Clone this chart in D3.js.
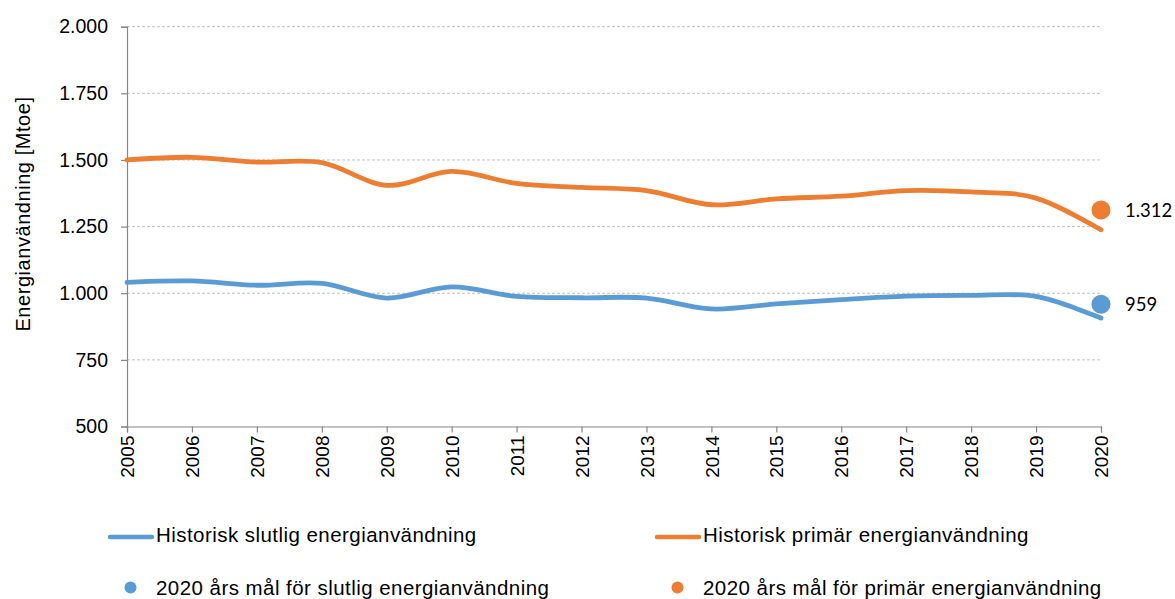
<!DOCTYPE html>
<html>
<head>
<meta charset="utf-8">
<script src="https://cdn.jsdelivr.net/npm/d3@7"></script>
<style>
  html, body { margin: 0; padding: 0; background: #fff; }
  svg { display: block; }
  text { font-family: "Liberation Sans", Arial, sans-serif; fill: #000; }
</style>
</head>
<body>
<svg id="chart" width="1175" height="599"></svg>
<script>
const years = [2005, 2006, 2007, 2008, 2009, 2010, 2011, 2012, 2013, 2014, 2015, 2016, 2017, 2018, 2019, 2020];
const finalUse = [1041, 1046, 1030, 1037, 982, 1024, 988, 983, 982, 941, 960, 976, 989, 992, 988, 907];
const primaryUse = [1500, 1510, 1492, 1490, 1405, 1457, 1412, 1397, 1385, 1332, 1354, 1364, 1385, 1380, 1357, 1238];
const targetYear = 2020;
const finalTarget = 959;
const primaryTarget = 1312;
const yTicks = [500, 750, 1000, 1250, 1500, 1750, 2000];
const yTickLabels = ["500", "750", "1.000", "1.250", "1.500", "1.750", "2.000"];
const targetLabels = ["959", "1.312"];
const legendLabels = [
  "Historisk slutlig energianvändning",
  "Historisk primär energianvändning",
  "2020 års mål för slutlig energianvändning",
  "2020 års mål för primär energianvändning"
];
const yTitle = "Energianvändning [Mtoe]";

const blue = "#5b9bd5", orange = "#ed7d31";
const svg = d3.select("#chart");
const pLeft = 127, pRight = 1101, pTop = 26.7, pBottom = 426.5;

const x = d3.scaleLinear().domain([2005, 2020]).range([pLeft, pRight]);
const y = d3.scaleLinear().domain([500, 2000]).range([pBottom, pTop]);

// gridlines
svg.append("g").selectAll("line").data(yTicks.filter(d => d > 500)).join("line")
  .attr("x1", pLeft).attr("x2", pRight)
  .attr("y1", d => y(d)).attr("y2", d => y(d))
  .attr("stroke", "#c0c0c0").attr("stroke-width", 1).attr("stroke-dasharray", "3,2");

// y axis
const yAxis = d3.axisLeft(y).tickValues(yTicks).tickSize(6).tickPadding(13)
  .tickFormat((d, i) => yTickLabels[i]);
const gy = svg.append("g").attr("transform", `translate(${pLeft},0)`).call(yAxis);
gy.select(".domain").attr("stroke", "#868686").attr("stroke-width", 1.2);
gy.selectAll(".tick line").attr("stroke", "#868686").attr("stroke-width", 1.2);
gy.selectAll(".tick text").attr("font-size", "19.5px").attr("fill", "#000")
  .style("font-family", "'Liberation Sans', Arial, sans-serif");

// x axis
const xAxis = d3.axisBottom(x).tickValues(years).tickSize(6).tickFormat(d3.format("d"));
const gx = svg.append("g").attr("transform", `translate(0,${pBottom})`).call(xAxis);
gx.select(".domain").attr("stroke", "#868686").attr("stroke-width", 1.2);
gx.selectAll(".tick line").attr("stroke", "#868686").attr("stroke-width", 1.2);
gx.selectAll(".tick text")
  .attr("font-size", "19px").attr("fill", "#000")
  .style("font-family", "'Liberation Sans', Arial, sans-serif")
  .attr("text-anchor", "end")
  .attr("transform", "rotate(-90)")
  .attr("x", -9).attr("y", 0).attr("dy", "0.35em");

// y title
svg.append("text")
  .attr("transform", `translate(30,214) rotate(-90)`)
  .attr("text-anchor", "middle")
  .attr("font-size", "20px")
  .attr("letter-spacing", "0.55px")
  .text(yTitle);

// lines
const line = d3.line().x((d, i) => x(years[i])).y(d => y(d)).curve(d3.curveCardinal.tension(0));
svg.append("path").datum(primaryUse).attr("d", line)
  .attr("fill", "none").attr("stroke", orange).attr("stroke-width", 4.8).attr("stroke-linecap", "round");
svg.append("path").datum(finalUse).attr("d", line)
  .attr("fill", "none").attr("stroke", blue).attr("stroke-width", 4.8).attr("stroke-linecap", "round");

// targets
const targets = [
  { v: finalTarget, c: blue, label: targetLabels[0] },
  { v: primaryTarget, c: orange, label: targetLabels[1] }
];
svg.append("g").selectAll("circle").data(targets).join("circle")
  .attr("cx", x(targetYear)).attr("cy", d => y(d.v)).attr("r", 9.5).attr("fill", d => d.c);
svg.append("g").selectAll("text").data(targets).join("text")
  .attr("x", x(targetYear) + 24).attr("y", d => y(d.v) + 6.5)
  .style("font-family", "Lato, 'Open Sans', sans-serif")
  .attr("font-size", "18.5px")
  .text(d => d.label);

// legend
const lg = svg.append("g");
const legendItems = [
  { type: "line", c: blue, x: 108, y: 537, label: legendLabels[0], tx: 156, ty: 542 },
  { type: "line", c: orange, x: 655, y: 537, label: legendLabels[1], tx: 703, ty: 542 },
  { type: "dot", c: blue, x: 108, y: 587.5, label: legendLabels[2], tx: 156, ty: 594.5 },
  { type: "dot", c: orange, x: 655, y: 587.5, label: legendLabels[3], tx: 703, ty: 594.5 }
];
legendItems.forEach(it => {
  if (it.type === "line") {
    lg.append("line").attr("x1", it.x + 2).attr("x2", it.x + 44).attr("y1", it.y).attr("y2", it.y)
      .attr("stroke", it.c).attr("stroke-width", 4.5).attr("stroke-linecap", "round");
  } else {
    lg.append("circle").attr("cx", it.x + 22.5).attr("cy", it.y).attr("r", 6).attr("fill", it.c);
  }
  lg.append("text").attr("x", it.tx).attr("y", it.ty).attr("font-size", "20.5px")
    .attr("letter-spacing", "0.45px").text(it.label);
});
</script>
</body>
</html>
